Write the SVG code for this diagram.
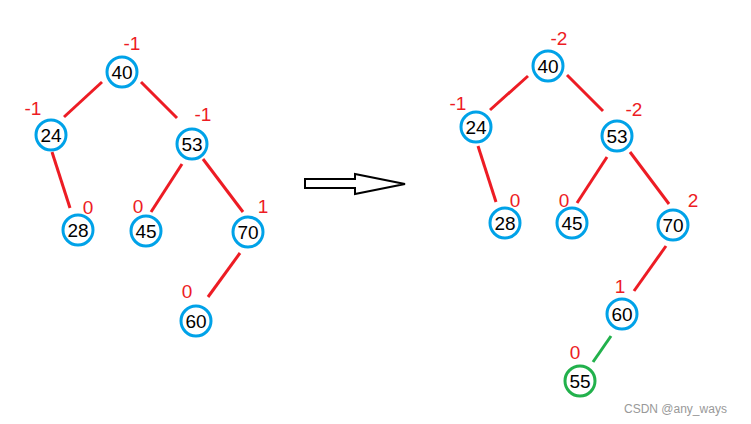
<svg xmlns="http://www.w3.org/2000/svg" width="751" height="424" viewBox="0 0 751 424">
<style>
.n{fill:#fff;stroke:#00a2e8;stroke-width:3}
.g{fill:#fff;stroke:#22b14c;stroke-width:3}
.t{font-family:"Liberation Sans",Arial,sans-serif;font-size:19px;fill:#000;text-anchor:middle}
.b{font-family:"Liberation Sans",Arial,sans-serif;font-size:19px;fill:#ed1c24;text-anchor:middle}
.e{stroke:#ed1c24;stroke-width:3;fill:none}
.eg{stroke:#22b14c;stroke-width:3;fill:none}
</style>
<rect width="751" height="424" fill="#fff"/>
<g id="connectors">
<line class="e" x1="102" y1="82" x2="64" y2="117"/>
<line class="e" x1="141" y1="82" x2="177" y2="118"/>
<line class="e" x1="52" y1="152" x2="70" y2="208"/>
<line class="e" x1="182" y1="164" x2="151" y2="212"/>
<line class="e" x1="203" y1="159" x2="243" y2="212"/>
<line class="e" x1="240" y1="253" x2="208" y2="297"/>
<line class="e" x1="528" y1="76" x2="490" y2="110"/>
<line class="e" x1="567" y1="75" x2="603" y2="111"/>
<line class="e" x1="478" y1="146" x2="496" y2="202"/>
<line class="e" x1="607" y1="157" x2="577" y2="203"/>
<line class="e" x1="630" y1="152" x2="669" y2="204"/>
<line class="e" x1="666" y1="246" x2="634" y2="291"/>
<line class="eg" x1="611" y1="336" x2="593" y2="362"/>
</g>
<g id="arrow">
<polygon points="305,179 355,179 355,174 405,184 355,194 355,188 305,188" fill="#fff" stroke="#000" stroke-width="2"/>
</g>
<g id="L40"><circle class="n" cx="122" cy="72" r="15"/><text class="t" x="122" y="79">40</text><text class="b" x="132" y="50">-1</text></g>
<g id="L24"><circle class="n" cx="51" cy="135" r="15"/><text class="t" x="51" y="142">24</text><text class="b" x="33" y="115">-1</text></g>
<g id="L53"><circle class="n" cx="192" cy="144" r="15"/><text class="t" x="192" y="151">53</text><text class="b" x="203" y="121">-1</text></g>
<g id="L28"><circle class="n" cx="78" cy="230" r="15"/><text class="t" x="78" y="237">28</text><text class="b" x="88" y="214">0</text></g>
<g id="L45"><circle class="n" cx="146" cy="231" r="15"/><text class="t" x="146" y="238">45</text><text class="b" x="138" y="213">0</text></g>
<g id="L70"><circle class="n" cx="248" cy="232" r="15"/><text class="t" x="248" y="239">70</text><text class="b" x="263" y="213">1</text></g>
<g id="L60"><circle class="n" cx="196" cy="321" r="15"/><text class="t" x="196" y="328">60</text><text class="b" x="187" y="298">0</text></g>
<g id="R40"><circle class="n" cx="548" cy="66" r="15"/><text class="t" x="548" y="73">40</text><text class="b" x="559" y="45">-2</text></g>
<g id="R24"><circle class="n" cx="476" cy="127" r="15"/><text class="t" x="476" y="134">24</text><text class="b" x="458" y="110">-1</text></g>
<g id="R53"><circle class="n" cx="617" cy="136" r="15"/><text class="t" x="617" y="143">53</text><text class="b" x="634" y="116">-2</text></g>
<g id="R28"><circle class="n" cx="505" cy="223" r="15"/><text class="t" x="505" y="230">28</text><text class="b" x="515" y="207">0</text></g>
<g id="R45"><circle class="n" cx="572" cy="223" r="15"/><text class="t" x="572" y="230">45</text><text class="b" x="564" y="207">0</text></g>
<g id="R70"><circle class="n" cx="673" cy="225" r="15"/><text class="t" x="673" y="232">70</text><text class="b" x="693" y="207">2</text></g>
<g id="R60"><circle class="n" cx="622" cy="314" r="15"/><text class="t" x="622" y="321">60</text><text class="b" x="620" y="293">1</text></g>
<g id="R55"><circle class="g" cx="580" cy="381" r="15"/><text class="t" x="580" y="388">55</text><text class="b" x="575" y="359">0</text></g>
<text x="624" y="413" font-family="Liberation Sans,Arial,sans-serif" font-size="12" fill="#999">CSDN @any_ways</text>
</svg>
